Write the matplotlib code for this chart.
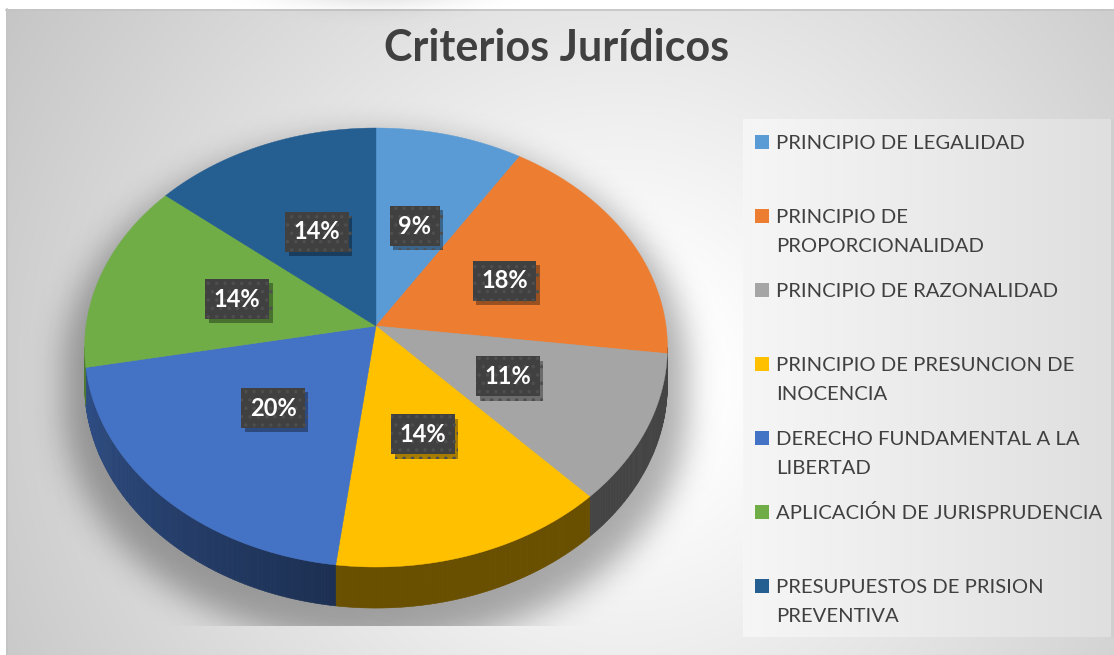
import numpy as np
import matplotlib
matplotlib.use('Agg')
import matplotlib.pyplot as plt
from matplotlib.path import Path
from matplotlib.patches import Polygon, Rectangle
import matplotlib.colors as mcolors
import matplotlib.patheffects as pe

# ---------------- data ----------------
title = 'Criterios Jurídicos'
categories = [
    'PRINCIPIO DE LEGALIDAD',
    'PRINCIPIO DE\nPROPORCIONALIDAD',
    'PRINCIPIO DE RAZONALIDAD',
    'PRINCIPIO DE PRESUNCION DE\nINOCENCIA',
    'DERECHO FUNDAMENTAL A LA\nLIBERTAD',
    'APLICACIÓN DE JURISPRUDENCIA',
    'PRESUPUESTOS DE PRISION\nPREVENTIVA',
]
values = [9, 18, 11, 14, 20, 14, 14]
colors = ['#5b9bd5', '#ed7d31', '#a5a5a5', '#ffc000', '#4472c4', '#70ad47', '#255e91']

# ---------------- figure ----------------
W, H = 1114, 655
fig = plt.figure(figsize=(W / 100, H / 100), dpi=100)
fig.patch.set_facecolor('white')
ax = fig.add_axes([0, 0, 1, 1])
ax.set_xlim(0, W)
ax.set_ylim(H, 0)
ax.axis('off')

yy, xx = np.mgrid[0:H, 0:W] + 0.5

# background radial gradient
d = np.hypot(xx - 620, yy - 380)
bg = 1 - 0.23 * np.clip((d - 90) / 640, 0, 1)
ax.imshow(np.dstack([bg, bg, bg]), extent=(0, W, H, 0), zorder=0, interpolation='bilinear')
ax.add_patch(Rectangle((0, 0), W, 9, fc='white', ec='none', zorder=0.5))
ax.add_patch(Rectangle((0, 0), 6, H, fc='white', ec='none', zorder=0.5))
ax.plot([6, W], [9.5, 9.5], color='#c4c4c4', lw=1.2, zorder=0.6)
ax.plot([6.5, 6.5], [9, H], color='#c4c4c4', lw=1.2, zorder=0.6)

# ---------------- pie geometry (perspective disc) ----------------
CX, CY, R, S, K, T = 376, 326, 290, 217.4, 0.098, 37


def proj(r, theta, dz=0.0):
    th = np.radians(theta)
    u = r * np.sin(th)
    v = r * np.cos(th)
    w = 1 + K * v
    return CX + R * u / w, CY - S * v / w + T * dz / w


total = float(sum(values))
bounds = np.concatenate([[0], np.cumsum(values)]) / total * 360.0

# shadow
full = np.linspace(0, 360, 361)
tx, ty = proj(1, full)
bx, by = proj(1, full, 1)
pts = np.column_stack([xx.ravel(), yy.ravel()])
sx = lambda x: CX + (x - CX) * 1.07
sy = lambda y: CY + (y - CY) * 1.06 + 20
m1 = Path(np.column_stack([sx(tx), sy(ty)])).contains_points(pts)
m2 = Path(np.column_stack([sx(bx), sy(by)])).contains_points(pts)
mask = (m1 | m2).reshape(H, W).astype(float)


def gblur(a, s):
    ky = np.fft.fftfreq(a.shape[0])
    kx = np.fft.fftfreq(a.shape[1])
    G = np.exp(-2 * (np.pi * s) ** 2 * (ky[:, None] ** 2 + kx[None, :] ** 2))
    return np.real(np.fft.ifft2(np.fft.fft2(a) * G))


sh = np.clip(gblur(mask, 16), 0, 1)
sh[yy > 626] = 0
rgba = np.zeros((H, W, 4))
rgba[..., 3] = 0.32 * sh
ax.imshow(rgba, extent=(0, W, H, 0), zorder=1, interpolation='bilinear')

# sides
thR = np.degrees(np.arccos(-K))
thL = 360 - thR
for a0, a1, col in zip(bounds[:-1], bounds[1:], colors):
    s0, s1 = max(a0, thR), min(a1, thL)
    if s1 <= s0:
        continue
    n = max(2, int((s1 - s0) / 0.5))
    ang = np.linspace(s0, s1, n + 1)
    base = np.array(mcolors.to_rgb(col))
    for b0, b1 in zip(ang[:-1], ang[1:]):
        mid = 0.5 * (b0 + b1)
        f = 0.41 + 0.30 * np.clip((mid - 185) / 80, 0, 1)
        c = base * f
        seg = np.array([b0, b1 + 0.05])
        x0, y0 = proj(1, seg)
        x1, y1 = proj(1, seg[::-1], 1)
        poly = np.column_stack([np.r_[x0, x1], np.r_[y0, y1]])
        ax.add_patch(Polygon(poly, closed=True, fc=c, ec=c, lw=0.4, zorder=2))

# top faces
for a0, a1, col in zip(bounds[:-1], bounds[1:], colors):
    ang = np.linspace(a0, a1, max(3, int(a1 - a0) + 2))
    x, y = proj(1, ang)
    poly = np.column_stack([np.r_[CX, x], np.r_[CY, y]])
    ax.add_patch(Polygon(poly, closed=True, fc=col, ec=col, lw=0.3, zorder=3))

# data labels
plt.rcParams['hatch.linewidth'] = 1.3
for a0, a1, v in zip(bounds[:-1], bounds[1:], values):
    lx, ly = proj(0.5, 0.5 * (a0 + a1))
    t = ax.text(lx, ly, f'{v}%', ha='center', va='center', fontsize=17, fontweight='bold',
                family='Lato', color='white', zorder=5,
                bbox=dict(boxstyle='square,pad=0.36', fc='#404040', ec='#4e4e4e',
                          lw=0, hatch='..'))
    t.get_bbox_patch().set_path_effects([
        pe.SimplePatchShadow(offset=(2.5, -3), shadow_rgbFace='black', alpha=0.35),
        pe.Normal()])

# title
ax.text(557, 61, title, ha='center', va='baseline', fontsize=31, fontweight='bold',
        family='Lato', color='#404040', zorder=6)

# legend box
lg = np.linspace(0.965, 0.875, 200)
ax.imshow(np.dstack([lg, lg, lg]), extent=(743, 1111, 637, 119),
          aspect='auto', zorder=1.5, interpolation='bilinear')
ax.add_patch(Rectangle((1111, 119), 4, 518, fc='#cfcfcf', ec='none', zorder=1.5))

for i, (cat, col) in enumerate(zip(categories, colors)):
    base_y = 149 + 74 * i
    ax.add_patch(Rectangle((755, base_y - 14.5), 14, 14, fc=col, ec='none', zorder=6))
    for j, line in enumerate(cat.split('\n')):
        ax.text(776, base_y + 29 * j, line, ha='left', va='baseline', fontsize=14.6,
                family='Lato', color='#404040', zorder=6)

ax.set_xlim(0, W)
ax.set_ylim(H, 0)
fig.savefig('out.png', dpi=100, facecolor='white')
